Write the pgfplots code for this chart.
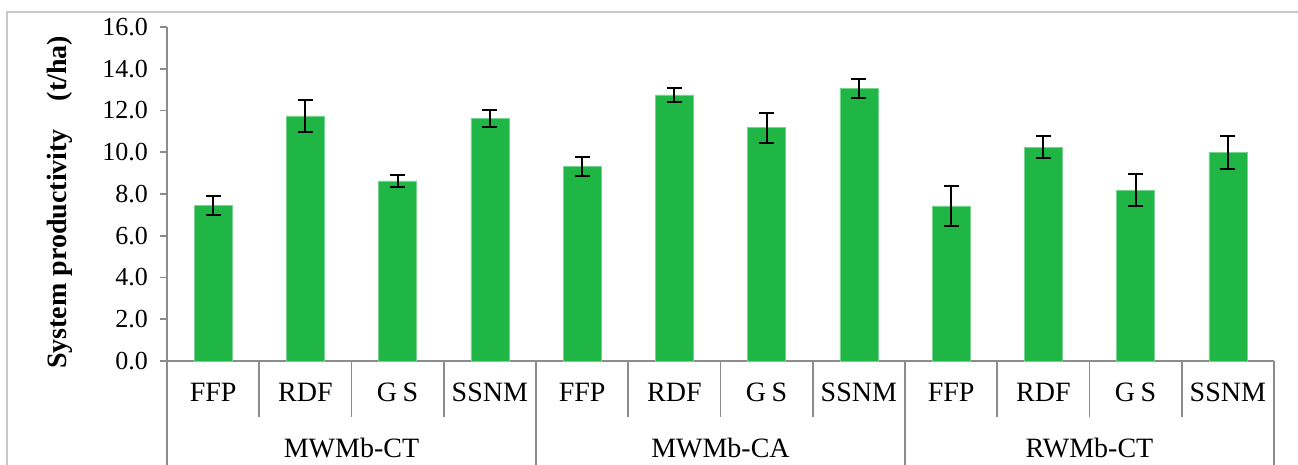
\documentclass[border=0pt]{standalone}
\usepackage{fontspec}
\setmainfont{Liberation Serif}
\usepackage{pgfplots}
\pgfplotsset{compat=1.18}
\definecolor{barGreen}{RGB}{31,182,70}
\definecolor{axisGray}{RGB}{140,140,140}
\definecolor{frameGray}{RGB}{200,200,200}
\newcommand\cf{\fontsize{13}{15.6}\selectfont}
\newcommand\lf{\fontsize{14}{16.8}\selectfont}

% system productivity (t/ha) with standard errors, 12 treatment bars
\pgfplotstableread{
x    y      e
0.5  7.45   0.45
1.5  11.74  0.78
2.5  8.63   0.28
3.5  11.62  0.40
4.5  9.31   0.45
5.5  12.75  0.35
6.5  11.18  0.72
7.5  13.06  0.45
8.5  7.43   0.95
9.5  10.25  0.52
10.5 8.19   0.77
11.5 9.98   0.80
}\prodtable

\begin{document}
\begin{tikzpicture}
\useasboundingbox (-83.5pt,-52pt) rectangle (565.5pt,180.5pt);
\draw[frameGray, line width=1pt] (-80pt,-60pt) -- (-80pt,174.5pt) -- (600pt,174.5pt);
\begin{axis}[
  anchor=origin, at={(0pt,0pt)},
  width=553.5pt, height=167pt, scale only axis,
  xmin=0, xmax=12, ymin=0, ymax=16,
  clip=false,
  axis x line=bottom, axis y line=left,
  axis line style={axisGray, line width=0.8pt, -},
  ybar, bar width=19pt,
  ytick={0,2,...,16},
  tick align=outside, major tick length=3.5pt,
  ytick style={axisGray, line width=0.8pt},
  xtick={0.5,1.5,...,11.5},
  xticklabels={FFP,RDF,G\hspace{0.2em}S,SSNM,FFP,RDF,G\hspace{0.2em}S,SSNM,FFP,RDF,G\hspace{0.2em}S,SSNM},
  xtick style={draw=none},
  xticklabel style={font=\lf, yshift=-4pt},
  yticklabel style={font=\cf, xshift=-2.5pt, /pgf/number format/.cd, fixed, fixed zerofill, precision=1, assume math mode=true},
  ylabel={\textbf{System productivity\quad (t/ha)}},
  every axis y label/.style={at={(axis description cs:-0.0967,0.475)}, rotate=90, anchor=center, font=\lf},
]
\addplot[fill=barGreen, draw=barGreen!60!white, line width=0.3pt,
  error bars/.cd, y dir=both, y explicit,
  error bar style={black, line width=1pt},
  error mark options={rotate=90, mark size=3.75pt, black, line width=1pt}]
  table[x=x, y=y, y error=e] {\prodtable};

% separators of the two-level category axis
\pgfplotsinvokeforeach{1,2,3,5,6,7,9,10,11}{
  \draw[axisGray, line width=0.8pt] (axis cs:#1,0) -- ++(0pt,-28pt);
}
\pgfplotsinvokeforeach{0,4,8,12}{
  \draw[axisGray, line width=0.8pt] (axis cs:#1,0) -- ++(0pt,-60pt);
}
\node[font=\lf] at (axis cs:2,0)  [yshift=-43.5pt] {MWMb-CT};
\node[font=\lf] at (axis cs:6,0)  [yshift=-43.5pt] {MWMb-CA};
\node[font=\lf] at (axis cs:10,0) [yshift=-43.5pt] {RWMb-CT};
\end{axis}
\end{tikzpicture}
\end{document}
